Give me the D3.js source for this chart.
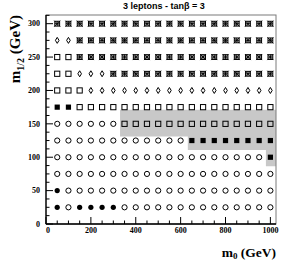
<!DOCTYPE html>
<html><head><meta charset="utf-8">
<script src="https://cdn.jsdelivr.net/npm/d3@7"></script>
<style>html,body{margin:0;padding:0;background:#fff;}svg{display:block;}</style>
</head><body>
<script>
const title = "3 leptons - tan\u03b2 = 3";
const m0 = [50,100,150,200,250,300,350,400,450,500,550,600,650,700,750,800,850,900,950,1000];
const m12 = [300,275,250,225,200,175,150,125,100,75,50,25];
// A = asterisk square, D = open diamond, S = open square, F = filled square, O = open circle, C = filled circle
const rowCodes = [
 "AAAAAAAAAAAAAAAAAAAA",
 "DDAAAAAAAAAAAAAAAAAA",
 "SSAAAAAAAAAAAAAAAAAA",
 "SSDDDAAAAAAAAAAAAAAA",
 "SSSDDDDDDDDDDDDDDDDD",
 "FFSSSSSSSSSSSSSSSSSS",
 "OOOOOOSSSSSSSSSSSSSS",
 "OOOOOOOOOOOOFFFFFFFF",
 "OOOOOOOOOOOOOOOOOOOF",
 "OOOOOOOOOOOOOOOOOOOO",
 "COOOOOOOOOOOOOOOOOOO",
 "COCCCCOOOOOOOOOOOOOO"
];
const shadeX = [330,1025,1025,980,980,632,632,330];
const shadeY = [171,171,86.5,86.5,111,111,131,131];
const xTicks = [0,200,400,600,800,1000];
const yTicks = [0,50,100,150,200,250,300];

const W=281,H=261;
const svg=d3.select("body").append("svg").attr("width",W).attr("height",H);
const x=d3.scaleLinear().domain([0,1025]).range([46,276]);
const y=d3.scaleLinear().domain([0,313]).range([224,15]);

// shaded region
svg.append("path")
  .attr("d", d3.line()(shadeX.map((v,i)=>[x(v),y(shadeY[i])]))+"Z")
  .attr("fill","#c8c8c8");

// frame
svg.append("rect").attr("x",x(0)).attr("y",y(313)).attr("width",x(1025)-x(0)).attr("height",y(0)-y(313))
  .attr("fill","none").attr("stroke","#7a7a7a").attr("stroke-width",1);

// axes
const xMinor = d3.range(0,1001,50);
const yMinor = d3.range(0,313,12.5);
const ax = svg.append("g");
ax.append("line").attr("x1",x(0)).attr("x2",x(1025)).attr("y1",y(0)).attr("y2",y(0)).attr("stroke","#000").attr("stroke-width",1.3);
ax.append("line").attr("x1",x(0)).attr("x2",x(0)).attr("y1",y(0)).attr("y2",y(313)).attr("stroke","#000").attr("stroke-width",1.3);
xMinor.forEach(v=>{
  const major = xTicks.includes(v);
  ax.append("line").attr("x1",x(v)).attr("x2",x(v)).attr("y1",y(0)).attr("y2",y(0)-(major?7:3.5)).attr("stroke","#000").attr("stroke-width",1);
});
yMinor.forEach(v=>{
  const major = yTicks.includes(v);
  ax.append("line").attr("x1",x(0)).attr("x2",x(0)+(major?7:3.5)).attr("y1",y(v)).attr("y2",y(v)).attr("stroke","#000").attr("stroke-width",1);
});
const tf = "'Liberation Serif','DejaVu Serif',serif";
xTicks.forEach(v=>{
  svg.append("text").attr("x",x(v)+(v===0?2:0)).attr("y",233).attr("text-anchor","middle")
    .attr("font-family",tf).attr("font-weight","bold").attr("font-size",8).text(v);
});
yTicks.forEach(v=>{
  svg.append("text").attr("x",40).attr("y",y(v)+2.8).attr("text-anchor","end")
    .attr("font-family",tf).attr("font-weight","bold").attr("font-size",8).text(v);
});

// markers
const g = svg.append("g");
rowCodes.forEach((row,ri)=>{
  row.split("").forEach((c,ci)=>{
    const cx=x(m0[ci]), cy=y(m12[ri]);
    if(c==="O"){
      g.append("circle").attr("cx",cx).attr("cy",cy).attr("r",2.6).attr("fill","none").attr("stroke","#000").attr("stroke-width",1);
    } else if(c==="C"){
      g.append("circle").attr("cx",cx).attr("cy",cy).attr("r",2.6).attr("fill","#000");
    } else if(c==="S"){
      g.append("rect").attr("x",cx-2.6).attr("y",cy-2.6).attr("width",5.2).attr("height",5.2).attr("fill","none").attr("stroke","#000").attr("stroke-width",1);
    } else if(c==="F"){
      g.append("rect").attr("x",cx-2.6).attr("y",cy-2.6).attr("width",5.2).attr("height",5.2).attr("fill","#000");
    } else if(c==="D"){
      g.append("path").attr("d",`M${cx},${cy-3}L${cx+1.8},${cy}L${cx},${cy+3}L${cx-1.8},${cy}Z`).attr("fill","none").attr("stroke","#000").attr("stroke-width",1);
    } else if(c==="A"){
      const s=2.4;
      g.append("rect").attr("x",cx-s).attr("y",cy-s).attr("width",2*s).attr("height",2*s).attr("fill","none").attr("stroke","#000").attr("stroke-width",1);
      g.append("path").attr("d",`M${cx-s-0.6},${cy-s-0.6}L${cx+s+0.6},${cy+s+0.6}M${cx+s+0.6},${cy-s-0.6}L${cx-s-0.6},${cy+s+0.6}M${cx},${cy-s}L${cx},${cy+s}M${cx-s},${cy}L${cx+s},${cy}`)
        .attr("stroke","#000").attr("stroke-width",0.9);
    }
  });
});

// title
svg.append("text").attr("x",164).attr("y",8.5).attr("text-anchor","middle")
  .attr("font-family","'Liberation Sans',Arial,sans-serif").attr("font-weight","bold").attr("font-size",9).text(title);

// axis titles
const xl = svg.append("text").attr("x",276).attr("y",256.5).attr("text-anchor","end")
  .attr("font-family",tf).attr("font-weight","bold").attr("font-size",13.5);
xl.append("tspan").text("m");
xl.append("tspan").attr("dy",2.5).attr("font-size",9).text("0");
xl.append("tspan").attr("dy",-2.5).text(" (GeV)");

const yl = svg.append("text").attr("transform","translate(20,15) rotate(-90)").attr("text-anchor","end")
  .attr("font-family",tf).attr("font-weight","bold").attr("font-size",15);
yl.append("tspan").text("m");
yl.append("tspan").attr("dy",3.5).attr("font-size",10).text("1/2");
yl.append("tspan").attr("dy",-3.5).text(" (GeV)");
</script>
</body></html>
